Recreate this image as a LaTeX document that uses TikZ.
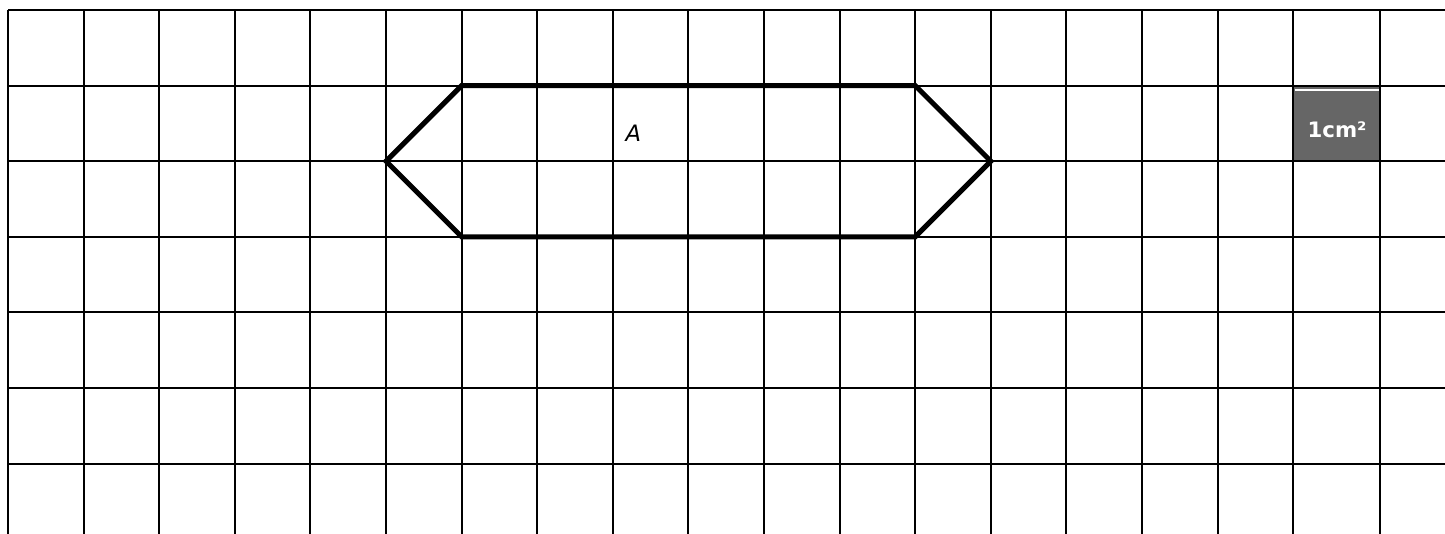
\documentclass[tikz,border=0pt]{standalone}
\usepackage{fontspec}
\newfontfamily\labelfont{DejaVu Sans}
\begin{document}
\begin{tikzpicture}[
	gridline/.style={line width=0.75pt, black},
	shapeline/.style={line width=1.9pt, black, line join=miter},
	unitbox/.style={fill=black!60},
	unitlabel/.style={text=white, font=\labelfont\bfseries\fontsize{8}{9}\selectfont},
	shapelabel/.style={font=\labelfont\itshape\fontsize{8.5}{10}\selectfont}
]

\def\dim{1cm}

\begin{scope}[x=\dim,y=\dim]
\useasboundingbox (-0.106,-6.931) rectangle (19.008,0.132);

% unit square
\fill[unitbox] (17,-1) rectangle (18.15,-2);
\draw[white, line width=0.5pt] (17.02,-1.06) -- (18.13,-1.06);
\node[unitlabel] (unit) at (17.58,-1.58) {1cm²};

% grid
\foreach \y in {0,...,6}{
	\draw[gridline] (0,-\y) -- (19.008,-\y);
}
\foreach \x in {0,...,17,18.15}{
	\draw[gridline] (\x,0) -- (\x,-6.931);
}

% shape A
\coordinate (w) at (5,-2);
\coordinate (nw) at (6,-1);
\coordinate (ne) at (12,-1);
\coordinate (e) at (13,-2);
\coordinate (se) at (12,-3);
\coordinate (sw) at (6,-3);
\draw[shapeline] (w) -- (nw) -- (ne) -- (e) -- (se) -- (sw) -- cycle;
\node[shapelabel] (a) at (8.27,-1.63) {A};
\end{scope}

\end{tikzpicture}
\end{document}
